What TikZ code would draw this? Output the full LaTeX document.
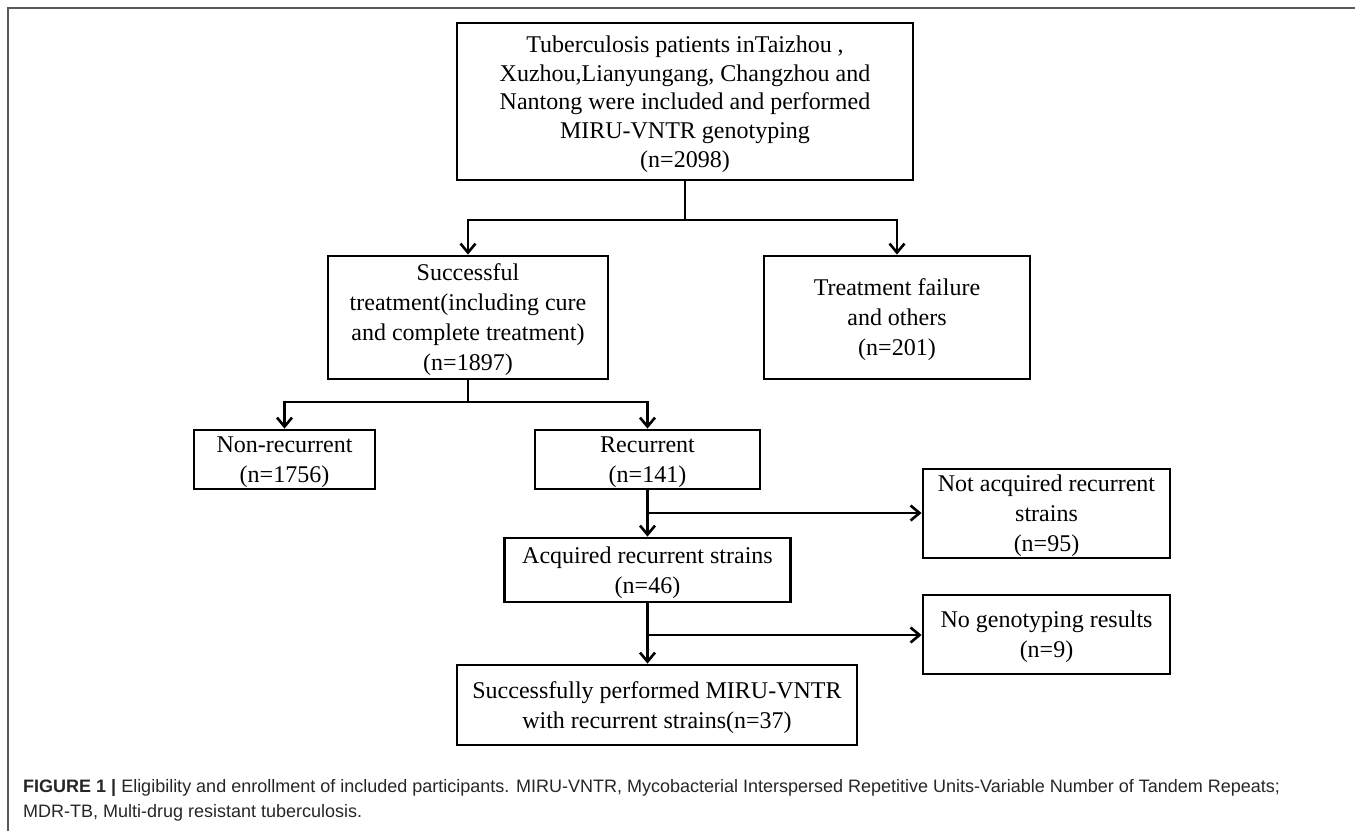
\documentclass[tikz,border=0pt]{standalone}
\usepackage{fontspec}
\setmainfont{Liberation Serif}
\newfontfamily\capfont{Liberation Sans}
\usetikzlibrary{arrows.meta}
\newcommand{\upstrut}{\rule{0pt}{22pt}}
\begin{document}
\begin{tikzpicture}[x=1pt,y=-1pt,
  box/.style={draw=black,line width=2.8pt,inner sep=0pt,align=center,font=\fontsize{24}{30}\selectfont},
  conn/.style={line width=2.8pt,draw=black},
  arr/.style={conn,-{Straight Barb[length=9pt,width=15pt,line width=2.6pt]}},
  captext/.style={anchor=base west,inner sep=0pt,font=\capfont\fontsize{18}{22}\selectfont,text=black!85}
]
\useasboundingbox (0,0) rectangle (1355,831);
\draw[line width=1.5pt, draw=black!65] (8,831) -- (8,8) -- (1355,8);

\node[box,minimum width=456pt,minimum height=157pt,font=\fontsize{24}{28.75}\selectfont] (top) at (685,101.5)
  {\upstrut Tuberculosis patients inTaizhou ,\\Xuzhou,Lianyungang, Changzhou and\\Nantong were included and performed\\MIRU-VNTR genotyping\\(n=2098)};
\node[box,minimum width=280pt,minimum height=123pt] (succ) at (468,317.5)
  {\upstrut Successful\\treatment(including cure\\and complete treatment)\\(n=1897)};
\node[box,minimum width=266pt,minimum height=123pt] (fail) at (897,317.5)
  {\upstrut Treatment failure\\and others\\(n=201)};
\node[box,minimum width=181pt,minimum height=59pt] (nonrec) at (284.5,459.5)
  {\upstrut Non-recurrent\\(n=1756)};
\node[box,minimum width=225pt,minimum height=59pt] (rec) at (647.5,459.5)
  {\upstrut Recurrent\\(n=141)};
\node[box,minimum width=247pt,minimum height=89pt] (notacq) at (1046.5,513.5)
  {\upstrut Not acquired recurrent\\strains\\(n=95)};
\node[box,minimum width=286pt,minimum height=64pt] (acq) at (647.5,570)
  {\upstrut Acquired recurrent strains\\(n=46)};
\node[box,minimum width=247pt,minimum height=79pt] (nogeno) at (1046.5,634.5)
  {\upstrut No genotyping results\\(n=9)};
\node[box,minimum width=400pt,minimum height=80pt] (final) at (657,705)
  {\upstrut Successfully performed MIRU-VNTR\\with recurrent strains(n=37)};

\coordinate (j1) at (685,220);
\coordinate (j2) at (468,402);
\coordinate (j3) at (647.5,513);
\coordinate (j4) at (647.5,635);

\draw[conn] (top.south) -- (j1);
\draw[arr] (j1) -| (succ.north);
\draw[arr] (j1) -| (fail.north);
\draw[conn] (succ.south) -- (j2);
\draw[arr] (j2) -| (nonrec.north);
\draw[arr] (j2) -| (rec.north);
\draw[arr] (rec.south) -- (rec.south |- acq.north);
\draw[arr] (j3) -- (j3 -| notacq.west);
\draw[arr] (acq.south) -- (acq.south |- final.north);
\draw[arr] (j4) -- (j4 -| nogeno.west);

\node[captext] (cap1) at (23,792) {\textbf{FIGURE 1 |} Eligibility and enrollment of included participants. MIRU-VNTR, Mycobacterial Interspersed Repetitive Units-Variable Number of Tandem Repeats;};
\node[captext] (cap2) at (23,817) {MDR-TB, Multi-drug resistant tuberculosis.};
\end{tikzpicture}
\end{document}
